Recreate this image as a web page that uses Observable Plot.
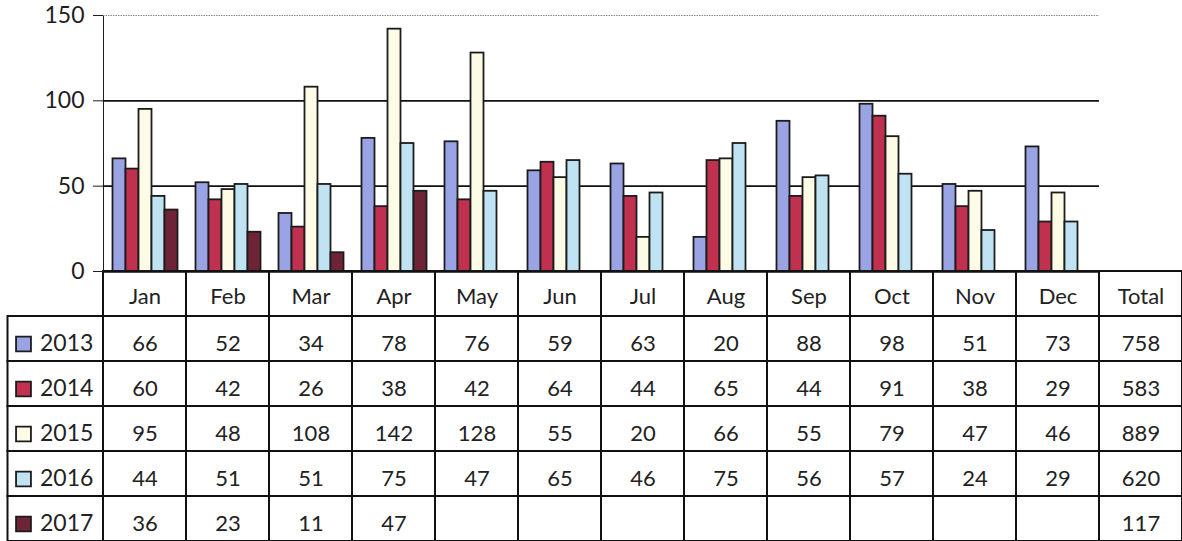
<!DOCTYPE html>
<html>
<head>
<meta charset="utf-8">
<script src="https://cdn.jsdelivr.net/npm/d3@7"></script>
<script src="https://cdn.jsdelivr.net/npm/@observablehq/plot@0.6"></script>
<style>
  html, body { margin: 0; padding: 0; background: #fff; overflow: hidden; }
  #wrap { position: relative; width: 1182px; height: 541px; }
  #table { position: absolute; left: 0; top: 271px; }
  #chart { position: absolute; left: 0; top: 0; }
</style>
</head>
<body>
<div id="wrap"><div id="table"></div><div id="chart"></div></div>
<script>
// ---- data ----
const months = ["Jan", "Feb", "Mar", "Apr", "May", "Jun", "Jul", "Aug", "Sep", "Oct", "Nov", "Dec"];
const totalLabel = "Total";
const years = ["2013", "2014", "2015", "2016", "2017"];
const v2013 = [66, 52, 34, 78, 76, 59, 63, 20, 88, 98, 51, 73];
const v2014 = [60, 42, 26, 38, 42, 64, 44, 65, 44, 91, 38, 29];
const v2015 = [95, 48, 108, 142, 128, 55, 20, 66, 55, 79, 47, 46];
const v2016 = [44, 51, 51, 75, 47, 65, 46, 75, 56, 57, 24, 29];
const v2017 = [36, 23, 11, 47];
const totals = [758, 583, 889, 620, 117];
const yTicks = [0, 50, 100, 150];

// ---- styles ----
const seriesColors = ["#9aa3e4", "#c0304f", "#fbfbe6", "#bfe3f3", "#6e2436"];
const font = "Lato, 'Open Sans', sans-serif";

// ---- build tables ----
const seriesValues = [v2013, v2014, v2015, v2016, v2017];
const rows = [];
years.forEach((yr, i) => {
  seriesValues[i].forEach((v, j) => rows.push({year: yr, month: months[j], value: v}));
});
const columns = [...months, totalLabel];
const bodyCells = [];
years.forEach((yr, i) => {
  months.forEach((m, j) => {
    const v = seriesValues[i][j];
    bodyCells.push({year: yr, col: m, text: v === undefined ? "" : String(v)});
  });
  bodyCells.push({year: yr, col: totalLabel, text: String(totals[i])});
});
const headerCells = columns.map(c => ({year: "hdr", col: c, text: c}));

const colorScale = {domain: years, range: seriesColors};

// ---- chart ----
const chart = Plot.plot({
  width: 1182,
  height: 272,
  marginLeft: 102.5,
  marginRight: 0,
  marginTop: 15,
  marginBottom: 1,
  style: {fontFamily: font, fontSize: "23px", color: "#1e1e1e", background: "transparent", overflow: "visible"},
  fx: {domain: columns, padding: 0, axis: null, label: null},
  x: {domain: years, paddingInner: 0, paddingOuter: 0.66, axis: null},
  y: {domain: [0, 150], ticks: yTicks, tickSize: 10, tickPadding: 9, line: true, label: null},
  color: colorScale,
  marks: [
    Plot.ruleY([150], {stroke: "#8a8a8a", strokeWidth: 1.2, strokeDasharray: "1.5,1"}),
    Plot.ruleY([50, 100], {stroke: "#111", strokeWidth: 1.8}),
    Plot.barY(rows, {fx: "month", x: "year", y: "value", fill: "year", stroke: "#1c1c1c", strokeWidth: 1.8}),
    Plot.ruleY([0], {stroke: "#111", strokeWidth: 2.4})
  ]
});
document.getElementById("chart").appendChild(chart);

// ---- table ----
const table = Plot.plot({
  width: 1182,
  height: 270,
  marginLeft: 102.5,
  marginRight: 0,
  marginTop: 0,
  marginBottom: 0,
  style: {fontFamily: font, fontSize: "22px", color: "#1e1e1e", background: "transparent", overflow: "visible"},
  x: {domain: columns, padding: 0, axis: null},
  y: {domain: ["hdr", ...years], padding: 0, axis: null},
  color: colorScale,
  marks: [
    Plot.cell(years, {y: d => d, insetLeft: -95, fill: "white", stroke: "#111", strokeWidth: 2}),
    Plot.cell([...headerCells, ...bodyCells], {x: "col", y: "year", fill: "none", stroke: "#111", strokeWidth: 2}),
    Plot.text(headerCells, {x: "col", y: "year", text: "text", dy: 3, fill: "#222"}),
    Plot.text(bodyCells, {x: "col", y: "year", text: "text", dy: 5, fill: "#222"}),
    Plot.dot(years, {y: d => d, frameAnchor: "left", dx: -79.5, dy: 5, symbol: "square", r: 8.4, fill: d => d, stroke: "#1c1c1c", strokeWidth: 1.8}),
    Plot.text(years, {y: d => d, frameAnchor: "left", dx: -63, dy: 5, textAnchor: "start", text: d => d, fill: "#222", fontSize: 23})
  ]
});
document.getElementById("table").appendChild(table);
</script>
</body>
</html>
